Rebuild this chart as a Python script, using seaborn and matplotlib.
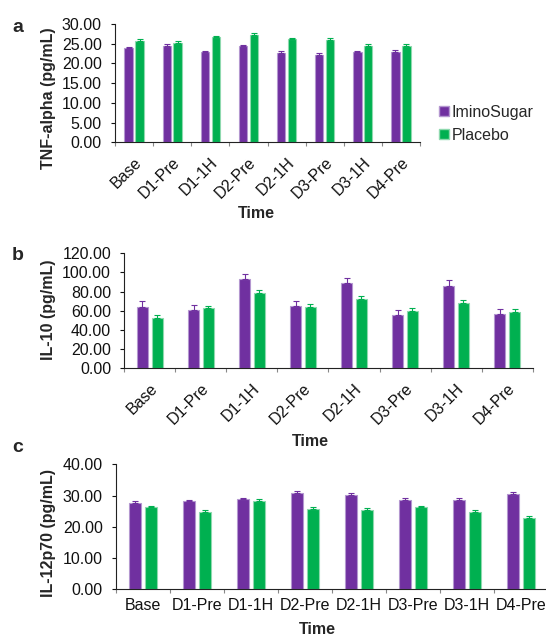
import numpy as np
import pandas as pd
import seaborn as sns
import matplotlib.pyplot as plt
from matplotlib.ticker import FixedLocator, FormatStrFormatter
from matplotlib.patches import Patch

sns.set_style("ticks")
plt.rcParams['font.family'] = ['Liberation Sans', 'DejaVu Sans']

times = ["Base", "D1-Pre", "D1-1H", "D2-Pre", "D2-1H", "D3-Pre", "D3-1H", "D4-Pre"]
groups = ["IminoSugar", "Placebo"]

# TNF-alpha
tnf_imino = [23.8, 24.5, 22.9, 24.4, 22.7, 22.2, 22.8, 22.9]
tnf_placebo = [25.7, 25.3, 26.6, 27.2, 26.1, 25.9, 24.4, 24.5]
tnf_imino_err = [0.4, 0.4, 0.3, 0.4, 0.5, 0.5, 0.4, 0.4]
tnf_placebo_err = [0.5, 0.4, 0.4, 0.5, 0.4, 0.5, 0.5, 0.5]

# IL-10
il10_imino = [64.0, 60.2, 92.7, 64.4, 88.5, 55.0, 85.7, 56.0]
il10_placebo = [51.8, 62.3, 78.0, 63.3, 72.0, 59.8, 67.9, 58.8]
il10_imino_err = [5.8, 5.6, 5.6, 5.6, 5.6, 5.5, 6.0, 5.3]
il10_placebo_err = [3.2, 3.0, 3.2, 3.2, 3.0, 3.0, 3.0, 3.3]

# IL-12p70
il12_imino = [27.7, 28.1, 28.9, 30.9, 30.2, 28.6, 28.6, 30.6]
il12_placebo = [26.2, 24.7, 28.4, 25.7, 25.4, 26.2, 24.8, 22.9]
il12_imino_err = [0.5, 0.5, 0.4, 0.5, 0.5, 0.5, 0.5, 0.4]
il12_placebo_err = [0.5, 0.6, 0.5, 0.6, 0.6, 0.5, 0.6, 0.6]

palette = {"IminoSugar": "#7030A0", "Placebo": "#00B050"}
edges = {"IminoSugar": "#B497D0", "Placebo": "#8ED9AE"}

FS = 11.5


def make_df(imino, placebo, ie, pe):
    return pd.DataFrame({
        "Time": times * 2,
        "Group": ["IminoSugar"] * len(times) + ["Placebo"] * len(times),
        "value": imino + placebo,
        "err": ie + pe,
    })


def draw(ax, df, ymax, step, rot, xpad):
    sns.barplot(data=df, x="Time", y="value", hue="Group", order=times,
                hue_order=groups, palette=palette, width=0.574, gap=0.23,
                errorbar=None, legend=False, ax=ax, saturation=1)
    # colour edges and put upper error bars on every bar
    for cont, g in zip(ax.containers, groups):
        sub = df[df["Group"] == g].set_index("Time").loc[times]
        for bar in cont:
            bar.set_edgecolor(edges[g])
            bar.set_linewidth(0.8)
        xs = [b.get_x() + b.get_width() / 2 for b in cont]
        ax.errorbar(xs, sub["value"], yerr=[np.zeros(len(xs)), sub["err"]],
                    fmt="none", ecolor=palette[g], elinewidth=0.8,
                    capsize=2.2, capthick=0.8)
    ax.set_ylim(0, ymax)
    ax.set_yticks(np.arange(0, ymax + 0.01, step))
    ax.yaxis.set_major_formatter(FormatStrFormatter("%.2f"))
    ax.set_xlim(-0.5, len(times) - 0.5)
    ax.xaxis.set_major_locator(FixedLocator(np.arange(-0.5, len(times), 1.0)))
    ax.xaxis.set_minor_locator(FixedLocator(np.arange(len(times))))
    ax.set_xticklabels([], minor=False)
    ax.set_xticklabels(times, minor=True)
    ax.tick_params(axis="x", which="minor", length=0, labelsize=FS,
                   colors="#111111", pad=xpad)
    ax.tick_params(axis="x", which="major", length=3, width=0.8, color="#888888")
    ax.tick_params(axis="y", length=3, width=0.8, labelsize=FS,
                   colors="#111111", pad=6.5)
    if rot:
        for lab in ax.get_xticklabels(minor=True):
            lab.set_rotation(45)
            lab.set_ha("right")
            lab.set_rotation_mode("anchor")
    ax.set_xlabel("")
    ax.set_ylabel("")
    ax.set_clip_on(False)
    for s in ["top", "right"]:
        ax.spines[s].set_visible(False)
    for s in ["left", "bottom"]:
        ax.spines[s].set_linewidth(0.8)
        ax.spines[s].set_color("#222222")


W, H = 546, 636
fig = plt.figure(figsize=(W / 100, H / 100), dpi=100)
ax_a = fig.add_axes([115 / W, 1 - 142.3 / H, 305 / W, 118.3 / H])
ax_b = fig.add_axes([124.3 / W, 1 - 368 / H, 408.4 / W, 114.7 / H])
ax_c = fig.add_axes([116 / W, 1 - 589.3 / H, 432 / W, 125 / H])

draw(ax_a, make_df(tnf_imino, tnf_placebo, tnf_imino_err, tnf_placebo_err),
     30, 5, True, 9)
draw(ax_b, make_df(il10_imino, il10_placebo, il10_imino_err, il10_placebo_err),
     120, 20, True, 9)
draw(ax_c, make_df(il12_imino, il12_placebo, il12_imino_err, il12_placebo_err),
     40, 10, False, 6)

# axis titles
ylabels = [("TNF-alpha (pg/mL)", 48, 98), ("IL-10 (pg/mL)", 48, 310),
           ("IL-12p70 (pg/mL)", 49, 533)]
for txt, x, y in ylabels:
    fig.text(x / W, 1 - y / H, txt, rotation=90, ha="center", va="center",
             fontsize=FS, fontweight="bold")

for x, y in [(256, 213), (310, 441), (317, 630)]:
    fig.text(x / W, 1 - y / H, "Time", ha="center", va="center",
             fontsize=FS, fontweight="bold")

for letter, y in [("a", 27), ("b", 255), ("c", 447)]:
    fig.text(12 / W, 1 - y / H, letter, fontsize=14, fontweight="bold", va="center")

# legend
handles = [Patch(facecolor=palette[g], edgecolor=edges[g]) for g in groups]
fig.legend(handles, groups, loc="center left", bbox_to_anchor=(439 / W, 1 - 124 / H),
           frameon=False, fontsize=FS, handlelength=0.6, handleheight=0.6,
           handletextpad=0.2, labelspacing=0.5, borderpad=0, borderaxespad=0)

fig.savefig("out.png", dpi=100)
